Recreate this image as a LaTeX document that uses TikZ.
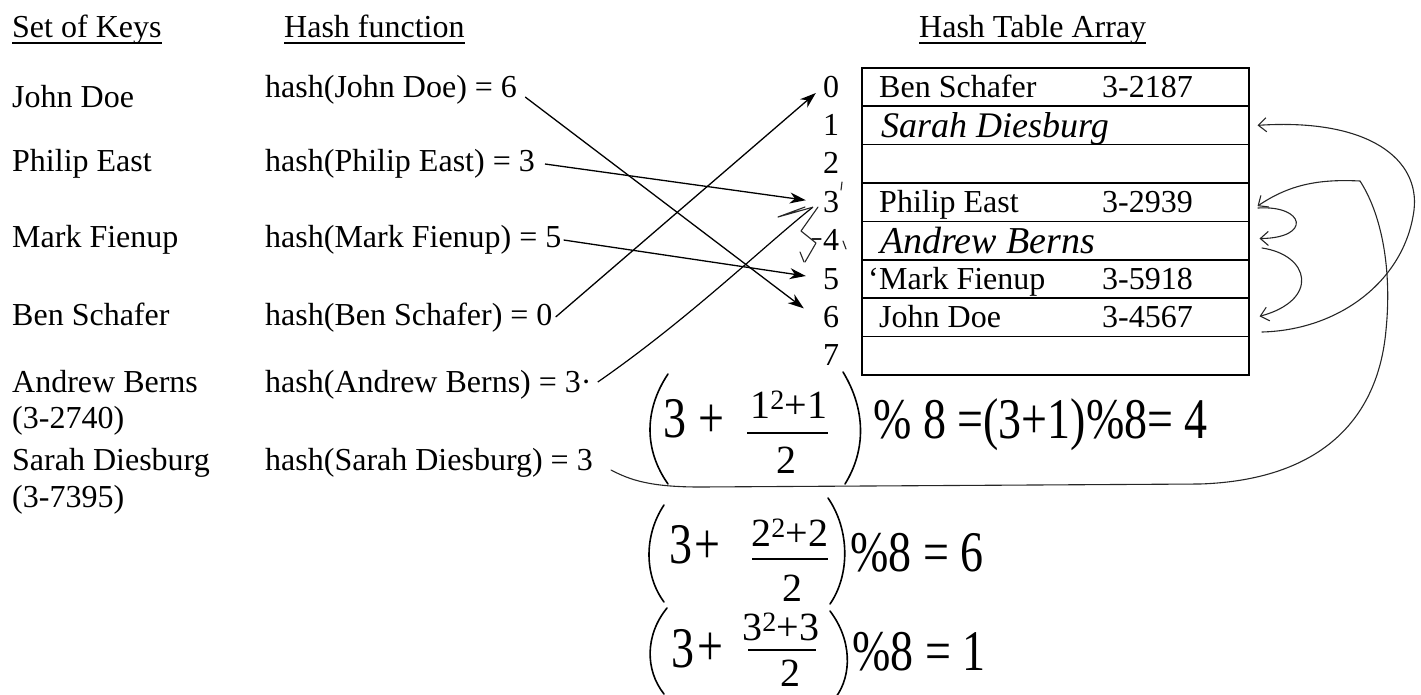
\documentclass[tikz,border=0pt]{standalone}
\usepackage{fontspec}
\setmainfont{Liberation Serif}
\usetikzlibrary{arrows.meta}
\begin{document}
\begin{tikzpicture}[x=1pt,y=-1pt,
  txt/.style={anchor=base west, inner sep=0pt, font=\fontsize{32}{38}\selectfont},
  idx/.style={anchor=base, inner sep=0pt, font=\fontsize{32}{38}\selectfont},
  hand/.style={anchor=base west, inner sep=0pt, font=\fontsize{36}{40}\selectfont\itshape},
  rowbox/.style={draw, line width=1.5pt, minimum width=387pt, minimum height=38.4pt, anchor=north west, inner sep=0pt},
  arr/.style={line width=1.3pt, -{Stealth[length=16pt,width=11pt,inset=5pt]}},
  hline/.style={line width=1.1pt, black!85, line cap=round, line join=round},
  harr/.style={hline, -{Straight Barb[length=8pt,width=14pt]}},
  fx/.style={inner sep=0pt, font=\fontsize{46}{50}\selectfont},
  fs/.style={inner sep=0pt, font=\fontsize{40}{44}\selectfont},
  paren/.style={line width=1.6pt, line cap=round},
  fbar/.style={line width=1.3pt},
  ul/.style={line width=1.4pt},
]
\useasboundingbox (0,0) rectangle (1421,694);

% headers
\node[txt] (hk) at (12,37) {Set of Keys};
\node[txt] (hf) at (284,37) {Hash function};
\node[txt] (ht) at (919,37) {Hash Table Array};
\foreach \n in {hk,hf,ht}
  \draw[ul] ([yshift=-6pt]\n.base west) -- ([yshift=-6pt]\n.base east);

% keys
\node[txt] (k1) at (12,107) {John Doe};
\node[txt] (k2) at (12,171) {Philip East};
\node[txt] (k3) at (12,247) {Mark Fienup};
\node[txt] (k4) at (12,325) {Ben Schafer};
\node[txt] (k5) at (12,392) {Andrew Berns};
\node[txt] (k5b) at (12,428) {(3-2740)};
\node[txt] (k6) at (12,470) {Sarah Diesburg};
\node[txt] (k6b) at (12,507) {(3-7395)};

% hash function column
\node[txt] (h1) at (265,97) {hash(John Doe) = 6};
\node[txt] (h2) at (265,171) {hash(Philip East) = 3};
\node[txt] (h3) at (265,247) {hash(Mark Fienup) = 5};
\node[txt] (h4) at (265,325) {hash(Ben Schafer) = 0};
\node[txt] (h5) at (265,392) {hash(Andrew Berns) = 3·};
\node[txt] (h6) at (265,470) {hash(Sarah Diesburg) = 3};

% table rows and indices
\foreach \r in {0,...,7} {
  \node[rowbox] (r\r) at (861,{67+38.4*\r}) {};
  \node[idx] (i\r) at (831,{97+38.4*\r}) {\r};
}

% printed cell contents
\node[txt] (c0a) at (879,97) {Ben Schafer};
\node[txt] (c0b) at (1102,97) {3-2187};
\node[txt] (c3a) at (879,212.2) {Philip East};
\node[txt] (c3b) at (1102,212.2) {3-2939};
\node[txt] (c5q) at (868,289) {`};
\node[txt] (c5a) at (879,289) {Mark Fienup};
\node[txt] (c5b) at (1102,289) {3-5918};
\node[txt] (c6a) at (879,327.4) {John Doe};
\node[txt] (c6b) at (1102,327.4) {3-4567};

% handwritten cell contents
\node[hand] (c1) at (881,137) {Sarah Diesburg};
\node[hand, font=\fontsize{38}{42}\selectfont\itshape] (c4) at (880,253) {Andrew Berns};

% printed arrows
\coordinate (s1) at ([xshift=8pt]h1.base east);
\coordinate (s2) at ([xshift=10pt,yshift=7pt]h2.base east);
\coordinate (s3) at ([xshift=2pt,yshift=7pt]h3.base east);
\coordinate (s4) at ([xshift=3pt,yshift=8pt]h4.base east);
\coordinate (s5) at ([xshift=6pt,yshift=10pt]h5.base east);
\coordinate (t6) at ([xshift=-19pt,yshift=19pt]i6.base west);
\coordinate (t3) at ([xshift=-17pt,yshift=12pt]i3.base west);
\coordinate (t5) at ([xshift=-17pt,yshift=13pt]i5.base west);
\coordinate (t0) at ([xshift=-7pt,yshift=4pt]i0.base west);
\coordinate (t3b) at ([xshift=-10pt,yshift=5pt]i3.base west);
\draw[arr] (s1) -- (t6);
\draw[arr] (s2) -- (t3);
\draw[arr] (s3) -- (t5);
\draw[arr] (s4) -- (t0);
\draw[line width=1.2pt] (s5) .. controls (690,318) and (765,245) .. (t3b);

% hand-drawn arrowhead and probe squiggle near 3 / 4
\draw[hline] (t3b) -- (778,217) -- (805,207);
\draw[hline] (818,207) -- (801,231) -- (816,243) -- (805,262);
\draw[hline] (804,262) -- (800,252);
\draw[hline] (842,182) -- (841,190);
\draw[hline] (812,239) -- (821,239);
\draw[hline] (843,241) -- (846,249);

% formula 1
\draw[paren] (668,374) .. controls (644,410) and (644,450) .. (668,484);
\node[fx] (f1a) at (675,419) {\scalebox{1}[1.25]{3}};
\node[fx] (f1b) at (711,421) {\scalebox{1}[1.25]{+}};
\node[fs] (f1n) at (789,405) {1\textsuperscript{2}+1};
\draw[fbar] (747,433) -- (828,433);
\node[fs] (f1d) at (786,460) {2};
\draw[paren] (843,372) .. controls (866,410) and (866,450) .. (845,484);
\node[fx, anchor=west] (f1r) at (873,425) {\scalebox{1}[1.25]{\% 8 =(3+1)\%8= 4}};

% formula 2
\draw[paren] (664,505) .. controls (644,535) and (644,575) .. (664,602);
\node[fx] (f2a) at (681,545) {\scalebox{1}[1.25]{3}};
\node[fx] (f2b) at (707,547) {\scalebox{1}[1.25]{+}};
\node[fs] (f2n) at (790,533) {2\textsuperscript{2}+2};
\draw[fbar] (752,559) -- (828,559);
\node[fs] (f2d) at (792,588) {2};
\draw[paren] (828,498) .. controls (850,530) and (850,575) .. (830,604);
\node[fx, anchor=west] (f2r) at (850,553) {\scalebox{1}[1.25]{\%8 = 6}};

% formula 3
\draw[paren] (667,608) .. controls (645,635) and (645,670) .. (664,694);
\node[fx] (f3a) at (683,649) {\scalebox{1}[1.25]{3}};
\node[fx] (f3b) at (710,649) {\scalebox{1}[1.25]{+}};
\node[fs] (f3n) at (781,627) {3\textsuperscript{2}+3};
\draw[fbar] (748,650) -- (816,650);
\node[fs] (f3d) at (790,673) {2};
\draw[paren] (830,611) .. controls (852,640) and (852,675) .. (836,697);
\node[fx, anchor=west] (f3r) at (852,652) {\scalebox{1}[1.25]{\%8 = 1}};

% hand-drawn probe arrows on the right
\coordinate (sd) at ([xshift=18pt]h6.base east);
\coordinate (a1) at ([xshift=8pt,yshift=0pt]r1.east);
\coordinate (a3) at ([xshift=8pt,yshift=-4pt]r3.east);
\coordinate (a4) at ([xshift=10pt,yshift=2pt]r4.east);
\coordinate (a6) at ([xshift=10pt,yshift=1pt]r6.east);
\draw[harr] (sd) .. controls (630,480) and (650,487) .. (700,487)
  -- (1200,484) .. controls (1320,480) and (1378,420) .. (1386,330)
  .. controls (1392,270) and (1382,215) .. (1360,181)
  .. controls (1320,179) and (1290,184) .. (a3);
\draw[harr] (1258,208) .. controls (1305,205) and (1312,238) .. (a4);
\draw[harr] (1262,248) .. controls (1310,255) and (1320,300) .. (a6);
\draw[harr] (1262,332) .. controls (1340,330) and (1405,280) .. (1414,210)
  .. controls (1420,160) and (1370,118) .. (a1);
\end{tikzpicture}
\end{document}
